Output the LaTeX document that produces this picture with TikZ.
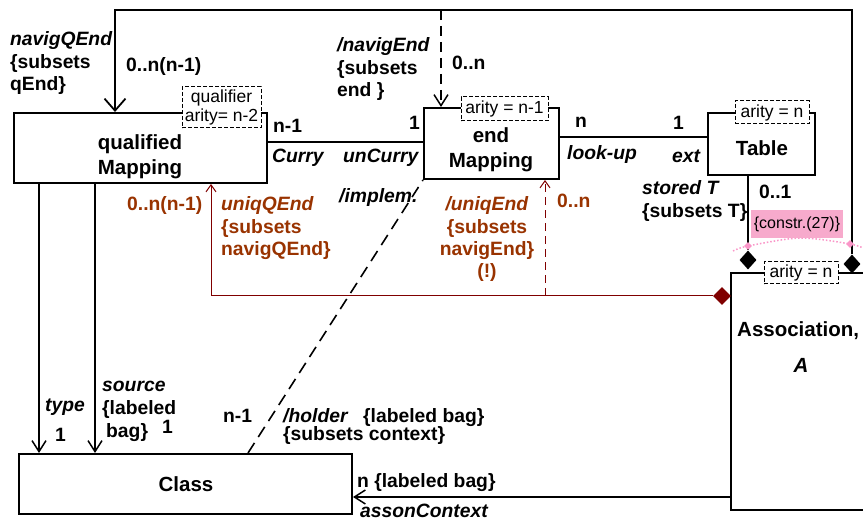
\documentclass[tikz,border=0pt]{standalone}
\usepackage{fontspec}
\setmainfont{Liberation Sans}
\usetikzlibrary{arrows.meta,shapes.geometric}
\definecolor{darkred}{RGB}{128,0,0}
\definecolor{rust}{RGB}{153,51,0}
\definecolor{constrpink}{RGB}{247,170,204}
\definecolor{arcpink}{RGB}{250,150,200}
\newcommand\lblfont{\fontsize{19.3}{22.3}\selectfont\bfseries}
\newcommand\boxfont{\fontsize{20.5}{25}\selectfont\bfseries}
\newcommand\tagfont{\fontsize{17.5}{19}\selectfont}
\begin{document}
\begin{tikzpicture}[x=1pt,y=-1pt,
  box/.style={draw, line width=2, inner sep=0},
  boxtext/.style={font=\boxfont, align=center, anchor=base, inner sep=0},
  lbl/.style={font=\lblfont, align=left, anchor=base west, inner sep=0},
  rlbl/.style={lbl, text=rust},
  tagbox/.style={draw, dash pattern=on 4pt off 2pt, line width=1, fill=white,
                 inner sep=0, font=\tagfont, align=center},
  conn/.style={line width=1.6},
  thick conn/.style={line width=2},
  redconn/.style={line width=1, darkred},
  bigopen/.style={-{Straight Barb[length=12pt,width=21pt,line width=1.8pt]}},
  open/.style={-{Straight Barb[length=11pt,width=14pt,line width=1.5pt]}},
  redopen/.style={-{Straight Barb[length=7pt,width=10pt,line width=1pt]}},
  blackdia/.style={diamond, fill=black, inner sep=0, minimum width=17, minimum height=19},
  pinkdia/.style={diamond, fill=arcpink, inner sep=0, minimum width=8, minimum height=8},
]
\clip (0,0) rectangle (863,521);
\fill[white] (0,0) rectangle (863,521);

% classes
\node[box, minimum width=253, minimum height=70] (qm) at (140.5,148) {};
\node[box, minimum width=135, minimum height=71] (em) at (491.5,143.5) {};
\node[box, minimum width=107, minimum height=62] (tb) at (761.5,144) {};
\node[box, minimum width=333, minimum height=60] (cl) at (185.5,484) {};
\node[box, minimum width=150, minimum height=237] (as) at (806,391.5) {};

% class names (multi-line nodes sit on the baseline of their last line)
\node[boxtext] (qmt) at (140,175) {qualified\\Mapping};
\node[boxtext] (emt) at (491,168) {end\\Mapping};
\node[boxtext] (tbt) at (762,156) {Table};
\node[boxtext] (clt) at (186,491) {Class};
\node[boxtext, anchor=base west] (ast) at (737,337) {Association,};
\node[boxtext] (asa) at (801,373) {\itshape A};

% helper points for routed connectors
\coordinate (tl) at (115,10);
\coordinate (tr) at (852,10);
\coordinate (ne) at (441,10);
\coordinate (l1) at (0,142);
\coordinate (l2) at (0,137);
\coordinate (rc) at (211,296);
\coordinate (rm) at (545,296);
\coordinate (ta) at (39,0);
\coordinate (sa) at (95,0);
\coordinate (ih) at (248,0);
\coordinate (ac) at (0,497);

% composition diamonds
\node[blackdia] (dL) at (748,260) {};
\node[blackdia] (dR) at (852,264) {};
\node[diamond, fill=darkred, inner sep=0, minimum width=18, minimum height=18] (rd) at (722,296) {};

% top navigation loop
\draw[thick conn, bigopen] (dR.north) -- (tr) -- (tl) -- (tl |- qm.north);
\draw[conn, open, dash pattern=on 10pt off 6pt] (ne) -- (ne |- em.north);

% associations between the mappings and the table
\draw[conn] (qm.east |- l1) -- (em.west |- l1);
\draw[conn] (em.east |- l2) -- (tb.west |- l2);
\draw[conn] (tb.south -| dL) -- (dL.north);

% red unique ends
\draw[redconn, redopen] (rd.west) -- (rc) -- (rc |- qm.south);
\draw[redconn, redopen, dash pattern=on 8pt off 5pt] (rm) -- (rm |- em.south);

% type and source
\draw[conn, open] (ta |- qm.south) -- (ta |- cl.north);
\draw[conn, open] (sa |- qm.south) -- (sa |- cl.north);

% implementation holder
\draw[conn, dash pattern=on 12pt off 7pt] (ih |- cl.north) -- (em.south west);

% association context
\draw[conn, open] (as.west |- ac) -- (cl.east |- ac);

% constraint between the two compositions
\node[pinkdia] (pL) at (748,246) {};
\node[pinkdia] (pR) at (850,244) {};
\coordinate (arcL) at (733,251);
\coordinate (arcM) at (800,238);
\coordinate (arcR) at (868,250);
\draw[arcpink, line width=1.5, dotted] plot[smooth] coordinates {(arcL) (pL) (arcM) (pR) (arcR)};
\node[fill=constrpink, minimum width=92, minimum height=28, inner sep=0,
      font=\fontsize{16}{18}\selectfont] (cst) at (797,224) {\{constr.(27)\}};

% arity tags
\node[tagbox, minimum width=79, minimum height=41] (qtag) at (221.5,107.5) {qualifier\\arity= n-2};
\node[tagbox, minimum width=87, minimum height=24] (etag) at (504.5,109) {arity = n-1};
\node[tagbox, minimum width=74, minimum height=23] (ttag) at (772,112.5) {arity = n};
\node[tagbox, minimum width=74, minimum height=22] (atag) at (801,273) {arity = n};

% role names and multiplicities
\node[lbl] (navq) at (10,90.6) {\textit{navigQEnd}\\\{subsets\\qEnd\}};
\node[lbl] (navqm) at (126,72) {0..n(n-1)};
\node[lbl] (nave) at (337,96.6) {\textit{/navigEnd}\\\{subsets\\end \}};
\node[lbl] (navem) at (452,70) {0..n};
\node[lbl] (cm1) at (273,133) {n-1};
\node[lbl] (cm2) at (409,130) {1};
\node[lbl] (cur) at (272,163) {\textit{Curry}};
\node[lbl] (ucur) at (343,163) {\textit{unCurry}};
\node[lbl] (lm1) at (575,128) {n};
\node[lbl] (lm2) at (673,130) {1};
\node[lbl] (lku) at (567,160) {\textit{look-up}};
\node[lbl] (ext) at (672,163) {\textit{ext}};
\node[lbl] (sto) at (642,217.3) {\textit{stored T}\\\{subsets T\}};
\node[lbl] (stm) at (759,199) {0..1};
\node[rlbl] (uqm) at (127,211) {0..n(n-1)};
\node[rlbl] (uq) at (221,255.6) {\textit{uniqQEnd}\\\{subsets\\navigQEnd\}};
\node[rlbl, align=center, anchor=base] (ue) at (487,277.9) {\textit{/uniqEnd}\\\{subsets\\navigEnd\}\\(!)};
\node[rlbl] (uem) at (557,208) {0..n};
\node[lbl] (imp) at (339,203) {\textit{/implem.}};
\node[lbl] (typ) at (45,412) {\textit{type}};
\node[lbl] (typm) at (55,442) {1};
\node[lbl, font=\fontsize{19.3}{23}\selectfont\bfseries] (src) at (102,438) {\textit{source}\\\{labeled\\\hspace*{4pt}bag\}};
\node[lbl] (srcm) at (162,434) {1};
\node[lbl] (hm) at (223,423) {n-1};
\node[lbl, font=\fontsize{19.3}{18}\selectfont\bfseries] (hol) at (283,441) {\textit{/holder}\\\{subsets context\}};
\node[lbl] (holb) at (363,423) {\{labeled bag\}};
\node[lbl] (acm) at (357,487) {n \{labeled bag\}};
\node[lbl] (acr) at (360,517) {\textit{assonContext}};
\end{tikzpicture}
\end{document}
